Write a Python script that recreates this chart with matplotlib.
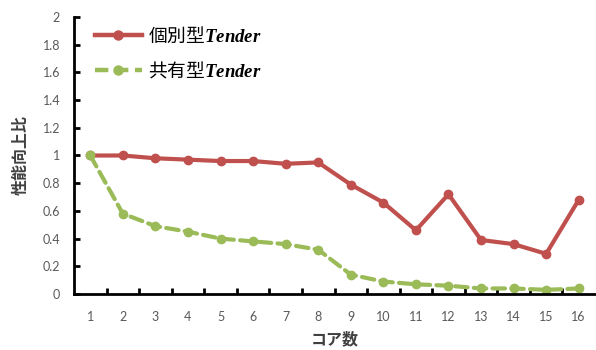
import matplotlib

matplotlib.use("Agg")
import matplotlib.pyplot as plt
from matplotlib.lines import Line2D

plt.rcParams["font.family"] = ["Noto Sans CJK JP", "DejaVu Sans"]
plt.rcParams["mathtext.fontset"] = "custom"
plt.rcParams["mathtext.it"] = "Liberation Serif:italic:bold"
plt.rcParams["mathtext.rm"] = "Liberation Serif:bold"

cores = list(range(1, 17))
kobetsu = [1.00, 1.00, 0.98, 0.97, 0.96, 0.96, 0.94, 0.95, 0.79, 0.66, 0.46, 0.72, 0.39, 0.36, 0.29, 0.68]
kyoyu = [1.00, 0.58, 0.49, 0.45, 0.40, 0.38, 0.36, 0.32, 0.14, 0.09, 0.07, 0.06, 0.04, 0.04, 0.03, 0.04]
labels = ["個別型$\\mathit{Tender}$", "共有型$\\mathit{Tender}$"]

RED = "#C0504D"
GREEN = "#9BBB59"
DASH = (0, (3.0, 1.5))

fig = plt.figure(figsize=(5.96, 3.5), dpi=100)
ax = fig.add_axes([74 / 596, 56 / 350, 521 / 596, 277 / 350])

x = list(range(len(cores)))
ax.plot(x, kobetsu, color=RED, lw=3.0, marker="o", ms=6, solid_capstyle="round")
ax.plot(x, kyoyu, color=GREEN, lw=3.0, ls=DASH, marker="o", ms=6, dash_capstyle="round")

ax.set_xlim(-0.5, len(cores) - 0.5)
ax.set_ylim(0, 2)
ax.set_yticks([i * 0.2 for i in range(11)])
ax.set_yticklabels(["0", "0.2", "0.4", "0.6", "0.8", "1", "1.2", "1.4", "1.6", "1.8", "2"])
ax.set_xticks(x)
ax.set_xticklabels([str(c) for c in cores])
ax.set_xticks([i + 0.5 for i in x[:-1]], minor=True)

for side in ("top", "right"):
    ax.spines[side].set_visible(False)
for side in ("left", "bottom"):
    ax.spines[side].set_linewidth(2)
    ax.spines[side].set_color("black")

ax.tick_params(axis="y", direction="in", length=4, width=2, labelsize=9,
               labelcolor="#595959", pad=10)
ax.tick_params(axis="x", which="major", length=0, labelsize=9, labelcolor="#595959", pad=12)
ax.tick_params(axis="x", which="minor", direction="in", length=4, width=2)
for lab in ax.get_xticklabels() + ax.get_yticklabels():
    lab.set_family(["Lato", "DejaVu Sans"])

ax.set_xlabel("コア数", fontsize=11.5, fontweight="bold", color="#404040", labelpad=6)
ax.set_ylabel("性能向上比", fontsize=11.5, fontweight="bold", color="#404040", labelpad=10)

handles = [
    Line2D([], [], color=RED, lw=3.2, marker="o", ms=6.5),
    Line2D([], [], color=GREEN, lw=3.2, ls=DASH, marker="o", ms=6.5),
]
ax.legend(handles, labels, loc="upper left", bbox_to_anchor=(0.008, 1.03), frameon=False,
          fontsize=13.5, handlelength=2.5, handletextpad=0.3, labelspacing=0.75)

fig.savefig("out.png", dpi=100)
